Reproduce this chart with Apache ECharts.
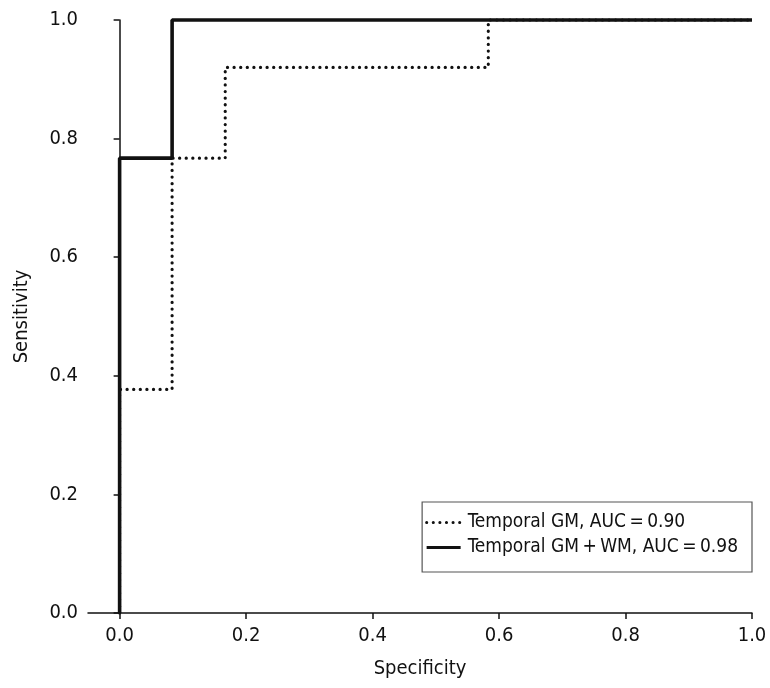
<!DOCTYPE html>
<html>
<head>
<meta charset="utf-8">
<script src="https://cdn.jsdelivr.net/npm/echarts@6/dist/echarts.min.js"></script>
<style>
  html, body { margin: 0; padding: 0; background: #fff; }
  #chart { width: 770px; height: 688px; }
</style>
</head>
<body>
<div id="chart"></div>
<script>
const seriesNames = ['Temporal GM, AUC\u2009=\u20090.90', 'Temporal GM\u2009+\u2009WM, AUC\u2009=\u20090.98'];
const gmX = [0, 0, 0.083, 0.083, 0.167, 0.167, 0.583, 0.583, 1.0];
const gmY = [0, 0.377, 0.377, 0.767, 0.767, 0.92, 0.92, 1.0, 1.0];
const gmwmX = [0, 0, 0.083, 0.083, 1.0];
const gmwmY = [0, 0.767, 0.767, 1.0, 1.0];
const tickValues = [0, 0.2, 0.4, 0.6, 0.8, 1.0];

const font = '"DejaVu Sans Condensed", "Liberation Sans", Arial, sans-serif';
const pair = (xs, ys) => xs.map((x, i) => [x, ys[i]]);

const chart = echarts.init(document.getElementById('chart'));
const options = {
    animation: false,
    grid: { left: 88, right: 18, top: 20, bottom: 75 },
    xAxis: {
        type: 'value',
        min: -0.05,
        max: 1.0,
        name: 'Specificity',
        nameLocation: 'middle',
        nameGap: 46,
        nameTextStyle: { fontFamily: font, fontSize: 20, color: '#111' },
        splitLine: { show: false },
        axisLine: { lineStyle: { color: '#111', width: 1.5 } },
        axisTick: { customValues: tickValues, length: 6, lineStyle: { color: '#111', width: 1.5 } },
        axisLabel: {
            customValues: tickValues,
            formatter: (v) => v.toFixed(1),
            fontFamily: font, fontSize: 20, color: '#111', margin: 13
        }
    },
    yAxis: {
        type: 'value',
        min: 0,
        max: 1.0,
        interval: 0.2,
        name: 'Sensitivity',
        nameLocation: 'middle',
        nameGap: 56,
        nameTextStyle: { fontFamily: font, fontSize: 20, color: '#111' },
        splitLine: { show: false },
        axisLine: { show: true, lineStyle: { color: '#111', width: 1.5 } },
        axisTick: { show: true, length: 6, lineStyle: { color: '#111', width: 1.5 } },
        axisLabel: {
            formatter: (v) => v.toFixed(1),
            fontFamily: font, fontSize: 20, color: '#111', margin: 10
        }
    },
    legend: {
        right: 18,
        top: 502,
        orient: 'vertical',
        padding: [11, 14, 15, 3],
        itemGap: 6,
        itemWidth: 34,
        itemHeight: 14,
        borderColor: '#555',
        borderWidth: 1.2,
        borderRadius: 0,
        itemStyle: { opacity: 0 },
        lineStyle: { width: 3 },
        textStyle: { fontFamily: font, fontSize: 19, color: '#111', padding: [0, 0, 0, 2] },
        data: seriesNames
    },
    series: [
        {
            name: seriesNames[0],
            type: 'line',
            data: pair(gmX, gmY),
            symbol: 'none',
            clip: false,
            z: 2,
            itemStyle: { color: '#111' },
            lineStyle: { color: '#111', width: 3.2, type: [0.1, 6.5], cap: 'round' }
        },
        {
            name: seriesNames[1],
            type: 'line',
            data: pair(gmwmX, gmwmY),
            symbol: 'none',
            clip: false,
            z: 3,
            itemStyle: { color: '#111' },
            lineStyle: { color: '#111', width: 3.6 }
        }
    ]
};
chart.setOption(options);
</script>
</body>
</html>
